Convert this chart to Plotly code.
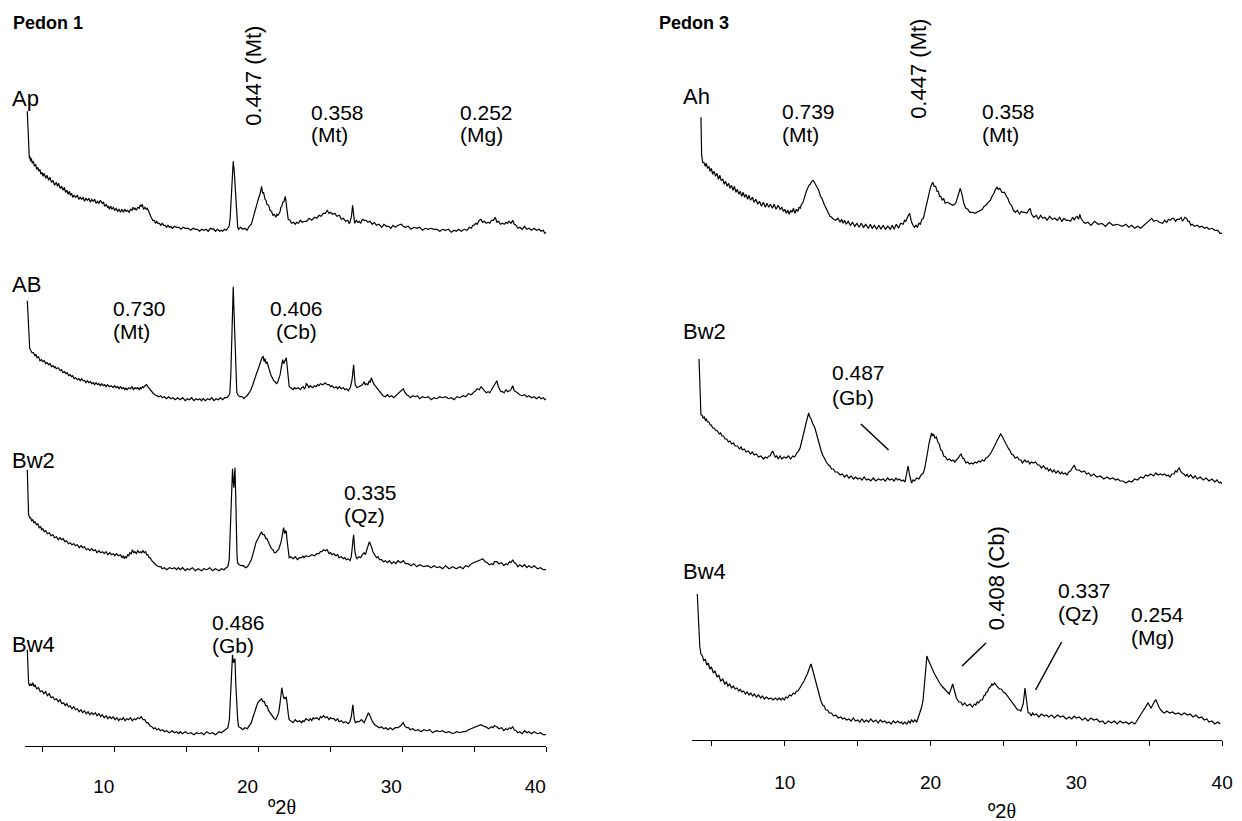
import plotly.graph_objects as go

W, H = 1242, 821
FONT = "Liberation Sans, Arial, sans-serif"

# ---------------- Pedon 1 (left panel): (2-theta deg, relative intensity) ----------------
AP = [(3.92,120),(4.01,80),(4.06,73),(4.1,75),(4.15,70),(4.2,73),(4.27,68),(4.34,70),(4.42,65),(4.5,67),(4.57,62),(4.65,64),(4.72,60),(4.8,62),(4.87,57),(4.95,59),(5.02,55),(5.1,58),(5.2,53),(5.3,56),(5.4,51),(5.5,54),(5.6,49),(5.7,51),(5.82,46),(5.94,49),(6.02,45),(6.1,48),(6.2,43),(6.3,45),(6.4,41),(6.5,44),(6.58,39),(6.67,41),(6.76,37),(6.85,40),(6.92,36),(7.0,38),(7.08,34),(7.17,36),(7.28,34),(7.4,36),(7.5,32),(7.6,34),(7.7,32),(7.8,34),(7.9,30),(8.0,33),(8.1,31),(8.2,33),(8.3,29),(8.4,32),(8.5,30),(8.6,32),(8.7,28),(8.8,30),(8.9,28),(9.0,31),(9.13,28),(9.22,29),(9.3,25),(9.4,27),(9.5,24),(9.57,25),(9.63,22),(9.72,25),(9.8,22),(9.9,24),(10.0,21),(10.1,23),(10.2,20),(10.3,22),(10.4,19),(10.5,22),(10.61,19),(10.7,22),(10.8,20),(10.9,21),(11.0,19),(11.1,22),(11.2,21),(11.27,24),(11.35,22),(11.42,23),(11.5,21),(11.6,24),(11.7,23),(11.77,26),(11.84,25),(11.92,27),(12.0,22),(12.1,24),(12.2,22),(12.27,23),(12.34,20),(12.42,18),(12.5,15),(12.57,13),(12.65,11),(12.75,11),(12.83,8),(12.92,10),(13.0,8),(13.1,8),(13.2,6),(13.3,8),(13.4,6),(13.5,6),(13.6,4),(13.7,6),(13.81,4),(13.9,5),(14.0,3),(14.15,5),(14.3,4),(14.45,4),(14.6,2),(14.75,4),(14.9,3),(15.1,3),(15.28,1),(15.45,3),(15.6,2),(15.75,2),(15.9,0),(16.05,2),(16.2,1),(16.35,2),(16.5,0),(16.65,3),(16.8,2),(16.9,2),(17.0,0),(17.15,2),(17.3,0),(17.4,1),(17.5,0),(17.62,2),(17.75,1),(17.85,3),(17.95,5),(18.02,12),(18.1,32),(18.17,55),(18.24,70),(18.31,60),(18.38,42),(18.44,20),(18.5,8),(18.55,4),(18.61,2),(18.75,4),(18.9,2),(19.05,3),(19.2,1),(19.35,5),(19.5,7),(19.6,13),(19.7,17),(19.82,25),(19.9,28),(20.0,33),(20.1,37),(20.21,45),(20.28,38),(20.35,39),(20.45,32),(20.52,31),(20.58,27),(20.7,26),(20.8,21),(20.9,20),(21.0,16),(21.1,17),(21.2,14),(21.28,17),(21.35,16),(21.44,18),(21.5,20),(21.55,24),(21.62,25),(21.68,29),(21.77,30),(21.86,35),(21.91,28),(21.95,22),(22.0,16),(22.06,12),(22.18,11),(22.3,8),(22.45,9),(22.55,7),(22.65,9),(22.78,8),(22.9,11),(23.05,9),(23.2,10),(23.35,10),(23.5,13),(23.7,11),(23.89,14),(24.05,13),(24.2,16),(24.35,15),(24.5,18),(24.65,18),(24.77,21),(24.9,18),(25.0,19),(25.15,17),(25.3,18),(25.45,15),(25.62,16),(25.75,12),(25.9,13),(26.05,10),(26.2,11),(26.3,8),(26.36,9),(26.46,15),(26.54,26),(26.6,15),(26.68,8),(26.8,11),(26.9,9),(27.0,10),(27.1,8),(27.22,12),(27.34,11),(27.48,11),(27.6,9),(27.75,10),(27.9,7),(28.05,9),(28.2,6),(28.38,7),(28.57,4),(28.72,7),(28.9,5),(29.05,5),(29.2,3),(29.35,6),(29.5,4),(29.7,6),(29.93,7),(30.05,5),(30.2,4),(30.4,5),(30.6,2),(30.8,4),(31.0,3),(31.2,4),(31.4,1),(31.6,3),(31.78,2),(32.0,3),(32.2,2),(32.4,2),(32.6,0),(32.8,2),(33.0,1),(33.2,2),(33.4,-1),(33.6,1),(33.75,0),(33.9,2),(34.1,0),(34.3,2),(34.5,1),(34.65,4),(34.8,3),(34.9,6),(34.98,6),(35.1,8),(35.2,7),(35.35,11),(35.47,12),(35.58,9),(35.7,10),(35.83,8),(35.96,9),(36.08,8),(36.2,11),(36.33,11),(36.45,14),(36.58,9),(36.7,10),(36.82,7),(36.95,8),(37.08,7),(37.2,9),(37.3,8),(37.4,10),(37.55,8),(37.67,11),(37.78,7),(37.9,6),(38.03,3),(38.16,4),(38.33,2),(38.5,5),(38.65,2),(38.8,3),(38.98,1),(39.16,3),(39.33,1),(39.5,2),(39.65,0),(39.8,1),(39.9,-2),(40.0,-1)]

AB = [(3.92,99),(4.05,57),(4.09,51),(4.17,49),(4.25,47),(4.35,47),(4.45,44),(4.52,45),(4.6,42),(4.7,43),(4.8,39),(4.9,40),(5.0,38),(5.1,39),(5.2,36),(5.3,37),(5.4,35),(5.5,36),(5.6,33),(5.7,34),(5.8,32),(5.87,33),(5.94,31),(6.07,32),(6.2,29),(6.3,30),(6.4,27),(6.5,28),(6.6,26),(6.7,27),(6.8,24),(6.9,25),(7.0,23),(7.08,24),(7.17,21),(7.28,22),(7.4,20),(7.5,21),(7.6,19),(7.7,21),(7.8,19),(7.9,19),(8.0,17),(8.1,19),(8.2,17),(8.3,18),(8.4,16),(8.5,17),(8.6,15),(8.7,17),(8.8,15),(8.9,16),(9.0,14),(9.1,16),(9.2,14),(9.3,15),(9.4,13),(9.5,15),(9.63,13),(9.75,14),(9.9,12),(10.0,14),(10.1,12),(10.2,13),(10.3,11),(10.4,13),(10.5,11),(10.6,12),(10.7,10),(10.78,12),(10.86,10),(10.98,12),(11.1,11),(11.2,13),(11.3,10),(11.4,12),(11.5,11),(11.6,12),(11.7,10),(11.77,12),(11.84,11),(11.92,13),(12.0,12),(12.1,14),(12.21,15),(12.3,13),(12.4,11),(12.5,9),(12.58,8),(12.7,6),(12.8,5),(12.93,4),(13.07,3),(13.2,4),(13.3,2),(13.45,3),(13.6,1),(13.75,3),(13.9,1),(14.05,2),(14.2,0),(14.38,2),(14.55,0),(14.72,2),(14.9,-1),(15.05,1),(15.2,0),(15.35,2),(15.5,-1),(15.65,1),(15.8,0),(15.92,1),(16.03,-1),(16.15,1),(16.3,-1),(16.45,1),(16.6,0),(16.75,2),(16.9,-1),(17.05,1),(17.2,0),(17.35,2),(17.5,0),(17.65,2),(17.8,2),(17.92,4),(18.0,6),(18.07,25),(18.12,50),(18.18,85),(18.24,113),(18.3,85),(18.35,60),(18.42,25),(18.49,7),(18.6,4),(18.7,3),(18.85,3),(18.98,1),(19.1,3),(19.2,4),(19.35,7),(19.47,10),(19.6,15),(19.7,20),(19.83,25),(19.96,30),(20.06,35),(20.15,40),(20.24,42),(20.33,43),(20.39,38),(20.45,41),(20.52,36),(20.58,38),(20.67,33),(20.75,30),(20.85,25),(20.95,22),(21.05,19),(21.15,18),(21.24,16),(21.32,17),(21.42,21),(21.5,25),(21.6,34),(21.68,40),(21.74,36),(21.8,38),(21.87,41),(21.93,42),(22.0,32),(22.05,25),(22.13,13),(22.25,12),(22.4,10),(22.5,12),(22.6,11),(22.75,12),(22.92,10),(23.0,12),(23.1,13),(23.18,11),(23.25,12),(23.32,16),(23.4,15),(23.5,12),(23.6,14),(23.75,12),(23.89,14),(24.0,13),(24.1,15),(24.2,14),(24.3,16),(24.47,15),(24.64,17),(24.77,15),(24.9,15),(25.0,13),(25.1,14),(25.25,12),(25.4,13),(25.5,11),(25.62,13),(25.75,11),(25.9,12),(26.0,10),(26.12,11),(26.25,9),(26.4,13),(26.5,20),(26.56,30),(26.61,35),(26.66,25),(26.72,15),(26.85,12),(26.97,13),(27.1,14),(27.22,15),(27.34,18),(27.42,15),(27.5,16),(27.6,15),(27.7,19),(27.77,17),(27.84,22),(27.92,18),(28.0,16),(28.1,14),(28.21,12),(28.35,9),(28.5,6),(28.65,4),(28.82,3),(28.95,5),(29.1,3),(29.25,4),(29.4,2),(29.55,4),(29.7,6),(29.85,8),(29.95,10),(30.06,11),(30.15,8),(30.3,5),(30.42,4),(30.55,2),(30.72,4),(30.9,3),(31.05,4),(31.2,1),(31.4,3),(31.6,2),(31.8,3),(32.0,0),(32.2,2),(32.4,1),(32.6,3),(32.8,2),(33.0,3),(33.2,1),(33.4,2),(33.6,0),(33.8,3),(34.0,2),(34.22,4),(34.4,3),(34.6,6),(34.8,5),(35.0,8),(35.1,9),(35.2,11),(35.35,10),(35.47,13),(35.6,10),(35.7,9),(35.83,7),(35.96,8),(36.08,7),(36.2,10),(36.3,11),(36.4,14),(36.5,16),(36.57,19),(36.65,14),(36.75,10),(36.85,8),(36.95,8),(37.08,7),(37.2,10),(37.33,8),(37.45,9),(37.55,10),(37.67,14),(37.78,9),(37.9,8),(38.03,6),(38.16,5),(38.33,4),(38.5,5),(38.65,3),(38.8,4),(38.98,2),(39.16,3),(39.33,1),(39.5,3),(39.65,1),(39.8,2),(39.9,0),(40.0,1)]

BW2A = [(3.92,100),(4.01,55),(4.08,52),(4.15,52),(4.22,49),(4.3,50),(4.38,47),(4.45,48),(4.55,45),(4.65,46),(4.75,42),(4.85,43),(4.92,40),(5.0,41),(5.1,38),(5.2,39),(5.32,36),(5.45,37),(5.57,34),(5.7,35),(5.82,32),(5.95,33),(6.07,30),(6.2,32),(6.3,30),(6.42,31),(6.53,28),(6.65,29),(6.78,26),(6.9,27),(7.02,25),(7.15,26),(7.27,24),(7.4,25),(7.53,22),(7.66,24),(7.78,22),(7.9,23),(8.02,20),(8.15,21),(8.27,19),(8.4,21),(8.52,19),(8.65,20),(8.77,17),(8.9,19),(9.02,17),(9.15,18),(9.27,16),(9.4,18),(9.52,15),(9.65,17),(9.77,15),(9.9,16),(10.0,14),(10.12,16),(10.25,14),(10.4,15),(10.5,12),(10.6,14),(10.67,11),(10.74,13),(10.82,12),(10.9,15),(10.98,14),(11.05,17),(11.15,16),(11.23,20),(11.32,17),(11.4,18),(11.5,16),(11.6,19),(11.7,17),(11.8,18),(11.88,17),(11.96,19),(12.05,17),(12.15,18),(12.22,15),(12.3,15),(12.38,12),(12.46,12),(12.58,9),(12.7,7),(12.85,5),(12.95,4),(13.07,3),(13.2,3),(13.3,1),(13.45,2),(13.6,0),(13.8,2),(14.0,1),(14.15,2),(14.3,0),(14.42,2),(14.55,0),(14.72,2),(14.9,-1),(15.05,1),(15.2,0),(15.4,2),(15.6,-1),(15.8,1),(16.03,-1),(16.2,1),(16.4,0),(16.6,2),(16.8,-1),(17.0,1),(17.26,-1),(17.42,1),(17.6,0),(17.75,2),(17.87,3),(17.96,10),(18.05,40),(18.12,75),(18.19,101),(18.24,88),(18.28,82),(18.32,92),(18.36,102),(18.41,75),(18.45,40),(18.5,15),(18.54,7),(18.65,5),(18.8,4),(18.95,4),(19.1,2),(19.22,3),(19.35,6),(19.5,10),(19.6,15),(19.7,21),(19.77,24),(19.84,28),(19.92,30),(20.0,33),(20.1,35),(20.21,38),(20.3,35),(20.4,35),(20.5,31),(20.58,31),(20.7,26),(20.8,24),(20.9,21),(21.0,20),(21.1,17),(21.2,17),(21.3,19),(21.4,20),(21.48,24),(21.57,28),(21.66,35),(21.74,42),(21.79,38),(21.83,36),(21.88,39),(21.93,38),(21.98,30),(22.02,25),(22.08,17),(22.13,12),(22.25,13),(22.4,11),(22.55,13),(22.7,10),(22.85,12),(23.0,12),(23.08,14),(23.16,12),(23.3,14),(23.5,13),(23.7,15),(23.89,14),(24.05,16),(24.2,16),(24.3,18),(24.4,18),(24.52,20),(24.64,19),(24.77,20),(24.9,16),(25.0,17),(25.1,15),(25.23,16),(25.37,14),(25.5,15),(25.6,12),(25.75,13),(25.9,11),(26.0,12),(26.1,10),(26.23,11),(26.36,9),(26.45,13),(26.52,20),(26.57,30),(26.61,35),(26.65,27),(26.7,18),(26.78,13),(26.85,11),(26.97,13),(27.1,12),(27.22,15),(27.34,17),(27.42,15),(27.5,18),(27.6,22),(27.66,26),(27.71,28),(27.78,24),(27.85,23),(27.95,18),(28.08,15),(28.2,12),(28.3,13),(28.42,10),(28.55,10),(28.68,8),(28.82,9),(28.95,7),(29.1,9),(29.25,6),(29.4,8),(29.55,6),(29.7,9),(29.88,7),(30.06,9),(30.22,6),(30.4,6),(30.6,4),(30.8,6),(31.0,3),(31.2,5),(31.5,3),(31.78,4),(32.0,2),(32.2,4),(32.4,2),(32.6,3),(32.8,1),(33.0,4),(33.25,1),(33.5,3),(33.75,1),(34.0,3),(34.22,1),(34.4,4),(34.6,3),(34.8,6),(35.0,7),(35.15,8),(35.3,9),(35.45,10),(35.59,11),(35.75,8),(35.9,7),(36.05,5),(36.2,6),(36.3,5),(36.4,8),(36.57,8),(36.72,6),(36.9,7),(37.05,4),(37.19,6),(37.32,5),(37.45,8),(37.55,7),(37.67,10),(37.78,7),(37.9,6),(38.03,3),(38.16,5),(38.33,3),(38.5,5),(38.65,2),(38.8,4),(38.98,2),(39.16,4),(39.4,1),(39.6,2),(39.8,0),(40.0,0)]

BW4A = [(3.92,85),(4.01,52),(4.08,49),(4.15,51),(4.22,49),(4.3,52),(4.38,48),(4.45,50),(4.57,46),(4.7,47),(4.82,43),(4.95,44),(5.07,41),(5.2,43),(5.32,39),(5.45,41),(5.57,37),(5.7,38),(5.82,35),(5.95,36),(6.07,33),(6.2,35),(6.32,31),(6.45,32),(6.56,29),(6.67,31),(6.78,28),(6.9,29),(7.02,26),(7.15,28),(7.27,25),(7.4,26),(7.52,23),(7.65,25),(7.77,22),(7.9,24),(8.02,21),(8.15,23),(8.27,20),(8.4,22),(8.52,20),(8.65,22),(8.77,19),(8.9,21),(9.02,18),(9.13,20),(9.27,17),(9.4,19),(9.52,16),(9.65,18),(9.77,16),(9.9,18),(10.02,15),(10.15,17),(10.27,14),(10.37,16),(10.5,15),(10.6,17),(10.72,14),(10.85,16),(10.97,15),(11.1,17),(11.22,14),(11.35,16),(11.47,15),(11.6,17),(11.72,16),(11.85,18),(11.97,15),(12.09,15),(12.2,12),(12.3,12),(12.45,9),(12.58,8),(12.7,6),(12.8,7),(12.92,5),(13.05,6),(13.18,4),(13.32,5),(13.45,3),(13.6,4),(13.8,2),(14.0,4),(14.15,2),(14.3,3),(14.45,1),(14.55,3),(14.72,1),(14.9,3),(15.1,1),(15.3,2),(15.5,0),(15.7,2),(15.87,1),(16.03,2),(16.2,0),(16.4,3),(16.6,1),(16.8,2),(17.0,0),(17.26,3),(17.42,2),(17.6,4),(17.75,5),(17.87,7),(17.97,15),(18.05,40),(18.12,65),(18.19,80),(18.24,73),(18.28,72),(18.32,75),(18.36,76),(18.42,50),(18.48,30),(18.55,15),(18.61,8),(18.75,7),(18.9,5),(19.05,7),(19.22,6),(19.35,9),(19.5,12),(19.6,17),(19.7,22),(19.77,25),(19.84,28),(19.92,31),(20.0,33),(20.1,34),(20.21,36),(20.3,33),(20.4,33),(20.5,29),(20.58,29),(20.7,24),(20.8,22),(20.9,19),(21.0,17),(21.1,16),(21.2,15),(21.3,18),(21.4,22),(21.48,30),(21.55,40),(21.62,47),(21.67,42),(21.72,38),(21.77,36),(21.81,37),(21.87,36),(21.93,38),(21.98,30),(22.02,25),(22.08,19),(22.13,15),(22.25,14),(22.4,12),(22.55,15),(22.7,13),(22.85,14),(23.0,12),(23.08,14),(23.16,13),(23.3,16),(23.5,14),(23.6,16),(23.7,14),(23.8,17),(23.89,16),(24.05,17),(24.2,15),(24.3,18),(24.4,17),(24.52,19),(24.64,17),(24.77,18),(24.9,15),(25.0,17),(25.1,16),(25.23,16),(25.37,14),(25.5,16),(25.6,13),(25.75,14),(25.9,12),(26.05,13),(26.24,11),(26.35,13),(26.45,18),(26.51,25),(26.56,30),(26.6,24),(26.65,16),(26.73,12),(26.85,13),(27.0,13),(27.15,15),(27.34,12),(27.42,15),(27.5,17),(27.57,20),(27.64,22),(27.72,20),(27.8,17),(27.92,13),(28.08,10),(28.22,9),(28.4,7),(28.55,8),(28.7,6),(28.85,7),(29.0,5),(29.15,7),(29.32,5),(29.5,7),(29.7,7),(29.88,9),(30.0,11),(30.06,12),(30.15,9),(30.3,7),(30.42,7),(30.55,5),(30.72,6),(30.9,4),(31.1,5),(31.3,3),(31.5,5),(31.7,4),(31.9,5),(32.1,2),(32.35,4),(32.6,3),(32.8,4),(33.0,2),(33.25,3),(33.5,1),(33.8,3),(34.0,2),(34.22,3),(34.4,3),(34.6,5),(34.8,6),(35.0,7),(35.2,8),(35.35,9),(35.47,10),(35.6,9),(35.7,8),(35.8,8),(36.0,6),(36.2,8),(36.3,7),(36.4,9),(36.57,8),(36.72,6),(36.9,7),(37.05,4),(37.19,6),(37.32,5),(37.45,7),(37.55,6),(37.67,8),(37.78,5),(37.9,4),(38.03,2),(38.16,3),(38.33,1),(38.5,4),(38.65,2),(38.8,3),(38.98,1),(39.16,3),(39.4,1),(39.6,2),(39.8,0),(40.0,0)]

# ---------------- Pedon 3 (right panel) ----------------
AH = [(4.25,113),(4.3,75),(4.37,68),(4.45,68),(4.55,64),(4.62,67),(4.7,62),(4.8,64),(4.88,59),(4.97,62),(5.05,56),(5.15,59),(5.25,54),(5.35,57),(5.45,51),(5.55,55),(5.64,50),(5.75,51),(5.85,46),(5.95,49),(6.05,44),(6.15,47),(6.25,42),(6.35,45),(6.45,40),(6.55,44),(6.65,38),(6.75,41),(6.85,36),(6.95,39),(7.05,34),(7.15,38),(7.25,33),(7.35,36),(7.45,31),(7.55,35),(7.65,30),(7.78,33),(7.9,28),(8.02,31),(8.15,26),(8.27,29),(8.4,24),(8.53,28),(8.67,23),(8.78,27),(8.9,23),(9.02,26),(9.15,22),(9.27,26),(9.4,21),(9.55,25),(9.68,21),(9.8,23),(9.9,19),(10.0,21),(10.1,17),(10.2,20),(10.3,16),(10.4,20),(10.5,18),(10.6,22),(10.7,17),(10.8,21),(10.9,19),(10.98,23),(11.06,22),(11.15,26),(11.25,28),(11.32,32),(11.4,35),(11.48,39),(11.57,42),(11.66,45),(11.75,46),(11.85,49),(11.95,50),(12.02,48),(12.1,47),(12.2,43),(12.33,40),(12.45,34),(12.55,32),(12.7,26),(12.83,22),(12.92,18),(13.0,17),(13.1,14),(13.21,13),(13.35,11),(13.5,10),(13.65,12),(13.8,8),(13.9,11),(14.0,7),(14.1,10),(14.22,6),(14.35,9),(14.5,5),(14.65,8),(14.8,4),(14.95,7),(15.1,3),(15.25,7),(15.4,3),(15.55,6),(15.73,2),(15.87,6),(16.0,2),(16.15,5),(16.3,1),(16.45,5),(16.6,1),(16.75,5),(16.9,1),(17.07,4),(17.24,1),(17.37,5),(17.5,1),(17.65,6),(17.8,2),(17.95,7),(18.12,6),(18.22,10),(18.3,9),(18.38,13),(18.45,14),(18.56,17),(18.63,12),(18.7,8),(18.8,5),(18.89,3),(19.0,5),(19.1,3),(19.2,7),(19.3,6),(19.4,11),(19.51,12),(19.6,18),(19.7,25),(19.8,32),(19.9,38),(19.98,42),(20.05,45),(20.15,48),(20.25,44),(20.35,44),(20.45,39),(20.53,39),(20.62,34),(20.7,34),(20.8,30),(20.9,32),(21.0,27),(21.16,28),(21.28,27),(21.4,26),(21.52,25),(21.66,26),(21.75,28),(21.85,33),(21.95,38),(22.04,42),(22.12,38),(22.2,32),(22.3,26),(22.42,22),(22.55,21),(22.7,18),(22.87,18),(23.05,17),(23.18,18),(23.3,19),(23.42,20),(23.55,21),(23.68,24),(23.8,25),(23.95,28),(24.1,30),(24.22,34),(24.35,37),(24.45,41),(24.56,43),(24.65,41),(24.75,42),(24.9,38),(25.07,38),(25.2,34),(25.3,32),(25.42,27),(25.55,25),(25.68,20),(25.82,18),(25.95,20),(26.1,16),(26.22,19),(26.35,18),(26.48,18),(26.6,17),(26.72,20),(26.83,22),(26.93,16),(27.08,13),(27.25,15),(27.4,11),(27.55,15),(27.7,12),(27.85,13),(28.0,10),(28.17,14),(28.35,11),(28.52,12),(28.7,10),(28.85,13),(29.0,9),(29.15,12),(29.3,10),(29.45,10),(29.6,9),(29.75,13),(29.86,10),(29.95,13),(30.05,14),(30.15,11),(30.24,16),(30.32,12),(30.4,10),(30.5,8),(30.62,7),(30.8,8),(31.0,5),(31.25,9),(31.5,6),(31.75,7),(32.0,4),(32.25,8),(32.5,5),(32.8,6),(33.15,4),(33.4,6),(33.6,3),(33.8,5),(34.0,2),(34.2,4),(34.41,2),(34.55,4),(34.7,6),(34.85,8),(35.0,10),(35.1,12),(35.17,12),(35.3,9),(35.5,10),(35.7,8),(35.92,7),(36.05,10),(36.2,8),(36.32,11),(36.45,10),(36.57,12),(36.68,12),(36.8,9),(36.9,11),(37.05,11),(37.18,13),(37.28,9),(37.35,11),(37.45,13),(37.56,12),(37.65,9),(37.75,9),(37.85,5),(37.94,6),(38.1,4),(38.3,5),(38.45,3),(38.6,4),(38.8,2),(38.95,3),(39.1,1),(39.3,2),(39.5,0),(39.7,0),(39.85,-3),(40.0,-3)]

BW2B = [(4.12,122),(4.2,78),(4.25,66),(4.33,66),(4.4,63),(4.48,64),(4.55,61),(4.62,62),(4.7,59),(4.8,59),(4.88,56),(4.97,56),(5.05,53),(5.15,53),(5.25,51),(5.38,50),(5.51,47),(5.6,48),(5.7,45),(5.8,45),(5.9,42),(6.02,42),(6.14,39),(6.25,40),(6.35,37),(6.48,38),(6.6,35),(6.75,35),(6.9,32),(7.0,34),(7.1,31),(7.22,32),(7.35,29),(7.5,30),(7.65,27),(7.78,29),(7.9,26),(8.05,27),(8.2,24),(8.37,25),(8.54,22),(8.67,24),(8.8,23),(8.9,25),(9.0,25),(9.08,28),(9.17,30),(9.25,27),(9.35,24),(9.45,25),(9.55,22),(9.68,25),(9.8,22),(9.95,24),(10.1,23),(10.25,25),(10.4,22),(10.55,25),(10.68,24),(10.82,28),(10.95,30),(11.05,33),(11.15,38),(11.23,43),(11.32,49),(11.41,55),(11.5,60),(11.57,64),(11.64,68),(11.72,64),(11.8,62),(11.93,57),(12.07,53),(12.18,47),(12.3,40),(12.4,35),(12.5,30),(12.6,26),(12.7,23),(12.85,19),(13.0,16),(13.1,15),(13.2,12),(13.33,12),(13.46,9),(13.62,9),(13.8,6),(13.95,7),(14.1,4),(14.25,6),(14.4,3),(14.56,5),(14.72,2),(14.86,4),(15.0,2),(15.15,3),(15.3,1),(15.45,4),(15.6,1),(15.75,2),(15.9,0),(16.07,3),(16.24,0),(16.42,2),(16.6,1),(16.75,2),(16.9,0),(17.05,3),(17.2,1),(17.35,2),(17.5,0),(17.62,3),(17.75,1),(17.87,2),(18.0,0),(18.12,1),(18.25,-1),(18.36,6),(18.46,15),(18.56,6),(18.7,-2),(18.8,1),(18.9,0),(19.05,3),(19.2,2),(19.35,6),(19.51,8),(19.6,13),(19.7,20),(19.8,29),(19.9,38),(20.0,45),(20.07,48),(20.13,45),(20.2,47),(20.3,43),(20.4,44),(20.5,39),(20.6,37),(20.7,31),(20.8,30),(20.9,25),(21.03,24),(21.15,21),(21.3,22),(21.42,20),(21.55,21),(21.67,19),(21.79,21),(21.88,22),(21.95,24),(22.02,26),(22.09,27),(22.2,23),(22.3,22),(22.42,18),(22.54,19),(22.67,17),(22.8,18),(22.92,17),(23.05,19),(23.17,18),(23.3,20),(23.42,19),(23.55,21),(23.68,20),(23.8,23),(23.92,24),(24.05,26),(24.17,29),(24.3,32),(24.42,36),(24.55,40),(24.68,44),(24.81,47),(24.9,45),(25.0,42),(25.15,38),(25.32,33),(25.43,31),(25.55,27),(25.67,26),(25.8,23),(25.95,24),(26.08,21),(26.2,21),(26.3,18),(26.45,21),(26.58,19),(26.7,20),(26.8,17),(26.92,19),(27.05,18),(27.2,19),(27.34,16),(27.47,16),(27.6,13),(27.75,15),(27.9,12),(28.0,13),(28.1,10),(28.22,12),(28.35,9),(28.47,11),(28.6,8),(28.75,10),(28.9,7),(29.0,9),(29.1,7),(29.23,8),(29.36,6),(29.48,9),(29.6,10),(29.72,13),(29.86,16),(29.93,13),(30.0,11),(30.18,11),(30.37,9),(30.55,10),(30.7,7),(30.85,8),(31.0,5),(31.2,7),(31.4,4),(31.65,5),(31.88,2),(32.1,4),(32.3,2),(32.5,3),(32.7,1),(32.85,2),(33.0,0),(33.2,0),(33.4,-2),(33.6,0),(33.8,-1),(34.0,2),(34.2,1),(34.4,4),(34.6,3),(34.75,6),(34.91,5),(35.1,7),(35.3,5),(35.45,8),(35.6,6),(35.75,7),(35.92,6),(36.05,7),(36.2,5),(36.3,6),(36.42,4),(36.55,7),(36.7,7),(36.8,10),(36.9,9),(36.98,12),(37.05,13),(37.15,10),(37.25,8),(37.37,7),(37.5,5),(37.6,7),(37.69,4),(37.85,6),(38.0,3),(38.15,5),(38.3,2),(38.5,4),(38.7,1),(38.9,3),(39.1,0),(39.3,2),(39.5,-1),(39.65,1),(39.8,-2),(39.9,-1),(40.0,-3)]

BW4B = [(4.0,130),(4.1,90),(4.17,78),(4.25,70),(4.35,68),(4.45,63),(4.55,65),(4.65,59),(4.75,61),(4.86,55),(4.97,57),(5.1,51),(5.22,53),(5.35,47),(5.47,49),(5.6,43),(5.75,45),(5.88,40),(6.0,42),(6.1,38),(6.22,40),(6.35,36),(6.47,38),(6.6,35),(6.72,36),(6.85,33),(6.95,35),(7.04,32),(7.17,33),(7.3,30),(7.42,32),(7.55,29),(7.67,31),(7.8,28),(7.92,30),(8.05,27),(8.2,29),(8.35,26),(8.47,28),(8.6,25),(8.75,27),(8.9,25),(9.05,26),(9.2,24),(9.35,26),(9.5,24),(9.62,26),(9.75,24),(9.86,26),(9.96,24),(10.08,27),(10.2,26),(10.32,29),(10.45,28),(10.58,31),(10.7,30),(10.8,33),(10.91,33),(11.0,35),(11.1,37),(11.2,40),(11.32,43),(11.44,47),(11.55,50),(11.67,55),(11.8,60),(11.88,56),(11.95,52),(12.05,47),(12.14,43),(12.22,38),(12.3,33),(12.4,28),(12.48,23),(12.6,19),(12.7,18),(12.82,14),(12.93,14),(13.05,11),(13.2,11),(13.35,8),(13.5,9),(13.67,6),(13.84,7),(13.97,5),(14.1,6),(14.25,4),(14.4,5),(14.55,3),(14.7,6),(14.85,3),(15.0,4),(15.15,2),(15.3,5),(15.45,2),(15.6,4),(15.75,2),(15.9,5),(16.08,2),(16.25,4),(16.4,1),(16.55,4),(16.7,2),(16.85,3),(17.0,1),(17.15,2),(17.3,0),(17.45,3),(17.6,1),(17.75,3),(17.9,1),(18.0,2),(18.1,0),(18.23,2),(18.37,0),(18.5,3),(18.6,1),(18.7,4),(18.8,2),(18.92,4),(19.05,2),(19.15,6),(19.25,10),(19.37,16),(19.48,23),(19.55,35),(19.62,50),(19.68,60),(19.75,68),(19.82,65),(19.9,62),(19.97,60),(20.05,57),(20.15,54),(20.28,50),(20.38,47),(20.5,44),(20.62,41),(20.77,38),(20.88,36),(21.0,34),(21.08,33),(21.15,32),(21.22,31),(21.28,30),(21.34,33),(21.4,36),(21.46,39),(21.52,40),(21.57,37),(21.62,34),(21.7,29),(21.77,26),(21.85,24),(21.95,22),(22.07,22),(22.2,19),(22.35,21),(22.5,18),(22.7,20),(22.88,17),(23.0,20),(23.1,19),(23.2,22),(23.3,21),(23.43,24),(23.56,24),(23.65,28),(23.75,29),(23.82,32),(23.9,32),(24.0,36),(24.1,37),(24.2,40),(24.28,39),(24.37,41),(24.48,39),(24.6,38),(24.72,35),(24.85,35),(25.0,32),(25.17,30),(25.32,27),(25.5,23),(25.67,19),(25.85,16),(25.93,15),(26.0,14),(26.1,14),(26.19,13),(26.28,16),(26.35,20),(26.42,28),(26.48,36),(26.53,30),(26.58,22),(26.63,15),(26.69,11),(26.8,11),(26.9,8),(27.0,11),(27.1,9),(27.25,10),(27.43,7),(27.6,10),(27.8,8),(27.95,9),(28.1,7),(28.3,9),(28.5,6),(28.7,9),(28.9,7),(29.1,8),(29.3,5),(29.5,7),(29.68,5),(29.85,8),(30.0,6),(30.2,7),(30.4,4),(30.6,6),(30.8,3),(31.0,6),(31.2,4),(31.4,5),(31.6,2),(31.8,3),(31.97,0),(32.2,3),(32.4,1),(32.6,3),(32.8,0),(33.0,3),(33.2,1),(33.4,2),(33.6,0),(33.8,2),(34.0,0),(34.1,2),(34.2,4),(34.32,7),(34.44,10),(34.57,13),(34.7,16),(34.82,19),(34.92,21),(35.0,19),(35.05,18),(35.12,16),(35.2,18),(35.3,21),(35.38,23),(35.46,24),(35.53,21),(35.6,18),(35.7,16),(35.8,14),(35.92,12),(36.05,11),(36.2,13),(36.4,11),(36.6,12),(36.8,10),(37.0,11),(37.2,9),(37.4,11),(37.63,9),(37.8,10),(38.0,7),(38.2,9),(38.4,6),(38.6,7),(38.77,4),(38.95,5),(39.1,2),(39.3,3),(39.5,0),(39.7,2),(39.87,0)]

TICK_VALS = [5, 10, 15, 20, 25, 30, 35, 40]
TICK_TEXT = ["", "10", "", "20", "", "30", "", "40"]

# stacking offsets (vertical positions of each pattern, in plot units)
OFF_P1 = {"Ap": 514.7, "AB": 346.3, "Bw2": 176.3, "Bw4": 11.3}
OFF_P3 = {"Ah": 509.7, "Bw2": 259.0, "Bw4": 16.0}

fig = go.Figure()
line = dict(color="black", width=1.2)

def add_pattern(pairs, off, xa, ya):
    xs = [p[0] for p in pairs]
    ys = [p[1] + off for p in pairs]
    fig.add_trace(go.Scatter(x=xs, y=ys, mode="lines", line=line,
                             xaxis=xa, yaxis=ya, hoverinfo="skip"))

for pairs, key in [(AP, "Ap"), (AB, "AB"), (BW2A, "Bw2"), (BW4A, "Bw4")]:
    add_pattern(pairs, OFF_P1[key], "x", "y")
for pairs, key in [(AH, "Ah"), (BW2B, "Bw2"), (BW4B, "Bw4")]:
    add_pattern(pairs, OFF_P3[key], "x2", "y2")

xcommon = dict(showline=True, linecolor="black", linewidth=1, ticks="outside", ticklen=5,
               tickcolor="black", tickwidth=1, tickvals=TICK_VALS, ticktext=TICK_TEXT,
               showgrid=False, zeroline=False, tickfont=dict(family=FONT, size=19, color="black"),
               fixedrange=True)
L_AX, R_AX = 738, 732   # pixel rows of the two x axis lines
fig.update_layout(
    width=W, height=H, margin=dict(l=0, r=0, t=0, b=0),
    paper_bgcolor="white", plot_bgcolor="white", showlegend=False,
    xaxis=dict(domain=[17 / W, 543 / W], range=[3.75, 40], anchor="y",
               ticklabelstandoff=18, ticklabelshift=-11, **xcommon),
    yaxis=dict(domain=[(H - L_AX) / H, (H - 40) / H], range=[0, L_AX - 40], visible=False),
    xaxis2=dict(domain=[690 / W, 1225 / W], range=[3.63, 40], anchor="y2",
                ticklabelstandoff=20, **xcommon),
    yaxis2=dict(domain=[(H - R_AX) / H, (H - 40) / H], range=[0, R_AX - 40], visible=False),
)

def txt(s, xp, yp, size=21, xanchor="left", angle=0, bold=False):
    fig.add_annotation(text=("<b>%s</b>" % s) if bold else s, x=xp / W, y=1 - yp / H,
                       xref="paper", yref="paper", xanchor=xanchor, yanchor="middle",
                       showarrow=False, textangle=angle,
                       font=dict(family=FONT, size=size, color="black"))

HZ = 22  # horizon label size
# left panel labels
txt("Pedon 1", 3, 15, 18, bold=True)
txt("Ap", 2, 91, HZ)
txt("0.447 (Mt)", 247, 68, 22, "center", -90)
txt("0.358", 304, 104); txt("(Mt)", 304, 127)
txt("0.252", 454, 104); txt("(Mg)", 454, 127)
txt("AB", 2, 277, HZ)
txt("0.730", 104, 300); txt("(Mt)", 104, 323)
txt("0.406", 291, 300, xanchor="center"); txt("(Cb)", 291, 323, xanchor="center")
txt("Bw2", 2, 452, HZ)
txt("0.335", 337, 484); txt("(Qz)", 337, 507)
txt("0.486", 204, 614); txt("(Gb)", 204, 637)
txt("Bw4", 2, 636, HZ)
THETA = "º2<span style='font-family:Liberation Serif'>θ</span>"
txt(THETA, 276, 799, 20, "center")

# right panel labels
txt("Pedon 3", 655, 15, 18, bold=True)
txt("Ah", 679, 88, HZ)
txt("0.739", 779, 103); txt("(Mt)", 779, 126)
txt("0.447 (Mt)", 919, 61, 22, "center", -90)
txt("0.358", 981, 103); txt("(Mt)", 981, 126)
txt("Bw2", 679, 323, HZ)
txt("0.487", 829, 365); txt("(Gb)", 829, 389)
txt("Bw4", 679, 563, HZ)
txt("0.408 (Cb)", 997, 570, 22, "center", -90)
txt("0.337", 1057, 582); txt("(Qz)", 1057, 605)
txt("0.254", 1131, 606); txt("(Mg)", 1131, 629)
txt(THETA, 1003, 803, 20, "center")

# leader lines (right panel), in data units
for x0, y0, x1, y1 in [(15.22, 316, 17.12, 290), (23.8, 97, 22.16, 74), (28.99, 98, 27.2, 50)]:
    fig.add_shape(type="line", xref="x2", yref="y2", x0=x0, y0=y0, x1=x1, y1=y1,
                  line=dict(color="black", width=1.5))

fig.write_html("out.html")
